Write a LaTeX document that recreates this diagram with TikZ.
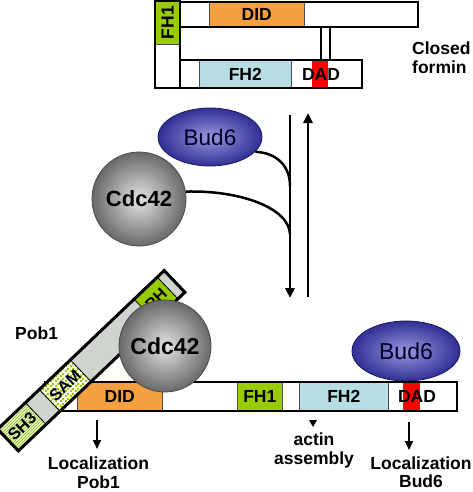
\documentclass[tikz,border=0pt]{standalone}
\usepackage{fontspec}
\setmainfont{Liberation Sans}
\usetikzlibrary{shapes.geometric,arrows.meta,patterns}
\pgfdeclarepatternformonly{finecheck}{\pgfpointorigin}{\pgfqpoint{5pt}{5pt}}{\pgfqpoint{5pt}{5pt}}{%
  \pgfpathrectangle{\pgfpointorigin}{\pgfqpoint{2.5pt}{2.5pt}}%
  \pgfpathrectangle{\pgfqpoint{2.5pt}{2.5pt}}{\pgfqpoint{2.5pt}{2.5pt}}%
  \pgfusepath{fill}}
\definecolor{didc}{RGB}{244,160,64}
\definecolor{fhone}{RGB}{153,204,0}
\definecolor{fhtwo}{RGB}{183,221,228}
\definecolor{dadc}{RGB}{255,0,0}
\definecolor{pobgray}{RGB}{208,212,206}
\definecolor{budin}{RGB}{152,152,222}
\definecolor{budout}{RGB}{48,48,150}
\definecolor{budline}{RGB}{25,25,90}
\definecolor{cdcin}{RGB}{228,228,228}
\definecolor{cdcout}{RGB}{105,105,105}
\definecolor{shfill}{RGB}{232,245,190}
\definecolor{shline}{RGB}{140,190,40}
\begin{document}
\begin{tikzpicture}[x=1pt,y=-1pt,
  lab/.style={font=\fontsize{17.5}{20}\selectfont\bfseries, inner sep=0pt},
  dom/.style={draw=black!70, line width=0.6pt, inner sep=0pt,
    font=\fontsize{17.5}{20}\selectfont\bfseries},
  outl/.style={draw=black, line width=2.5pt},
  link/.style={draw=black, line width=2pt},
  arr/.style={draw=black, line width=2.5pt, -{Triangle[length=10pt,width=9pt]}},
  sarr/.style={draw=black, line width=2pt, -{Triangle[length=9pt,width=8pt]}},
  curv/.style={draw=black, line width=2.5pt},
  bud/.style={ellipse, draw=budline, line width=0.8pt, shading=radial,
    inner color=budin, outer color=budout, inner sep=0pt, text=black!85!blue},
  cdc/.style={circle, draw=black!70, line width=0.8pt, shading=radial,
    inner color=cdcin, outer color=cdcout, inner sep=0pt,
    font=\fontsize{23}{26}\selectfont\bfseries},
  pobdom/.style={draw=black, line width=0.8pt, inner sep=0pt, transform shape,
    minimum height=30pt, anchor=west, font=\fontsize{16.5}{19}\selectfont\bfseries}
]
\useasboundingbox (0,0) rectangle (472,492);
\fill[white] (0,0) rectangle (472,492);

% ---------- closed formin ----------
\fill[white] (155,1) rectangle (180,88);
\fill[white] (180,2) rectangle (418,27);
\fill[white] (180,60) rectangle (362,88);
\node[dom, fill=fhone, rotate=90, minimum width=43pt, minimum height=25pt] (fh1t) at (167.5,22.5) {FH1};
\node[dom, fill=didc, minimum width=95pt, minimum height=25pt, anchor=north west] (didt) at (209,2) {DID};
\node[dom, fill=fhtwo, minimum width=92pt, minimum height=28pt, anchor=north west] (fh2t) at (199,60) {FH2};
\node[dom, draw=none, fill=dadc, minimum width=16pt, minimum height=28pt, anchor=north west] (dadt) at (312,60) {};
\node[lab] (dadtl) at (321,74) {DAD};
\draw[outl] (155,1) rectangle (180,88);
\draw[outl] (180,2) rectangle (418,27);
\draw[outl] (180,60) rectangle (362,88);
\draw[link] (321,27) -- (321,60);
\draw[link] (330,27) -- (330,60);
\node[lab, anchor=base west] (closed) at (412,55) {Closed};
\node[lab, anchor=base west] (formin) at (412,74) {formin};

% ---------- middle ----------
\node[bud, minimum width=104pt, minimum height=58pt,
  font=\fontsize{22.5}{25}\selectfont] (budA) at (210,137) {Bud6};
\node[cdc, minimum size=94pt, font=\fontsize{22}{25}\selectfont\bfseries] (cdcA) at (139,199) {Cdc42};
\coordinate (dnS) at (290,115);
\coordinate (dnE) at (290,298);
\coordinate (upS) at (308,297);
\coordinate (upE) at (308,113);
\draw[arr] (dnS) -- (dnE);
\draw[arr] (upS) -- (upE);
\coordinate (jA) at (290,186);
\coordinate (jB) at (290,234);
\draw[curv] (budA.-18) .. controls (277,153) and (290,166) .. (jA);
\draw[curv] (cdcA.9) .. controls (240,190) and (289,208) .. (jB);

% ---------- open formin ----------
\fill[white] (45,382) rectangle (457,411);
\node[dom, fill=didc, minimum width=85pt, minimum height=29pt, anchor=north west] (didb) at (77,382) {DID};
\node[dom, fill=fhone, minimum width=45pt, minimum height=29pt, anchor=north west] (fh1b) at (237,382) {FH1};
\node[dom, fill=fhtwo, minimum width=89pt, minimum height=29pt, anchor=north west] (fh2b) at (299,382) {FH2};
\node[dom, draw=none, fill=dadc, minimum width=17pt, minimum height=29pt, anchor=north west] (dadb) at (403,382) {};
\node[lab] (dadbl) at (417,396.5) {DAD};
\node[bud, minimum width=108pt, minimum height=60pt,
  font=\fontsize{23}{26}\selectfont] (budB) at (406,351) {Bud6};
\draw[outl] (45,382) rectangle (457,411);

% Pob1 bar
\begin{scope}[shift={(8,440)}, rotate=43.6]
  \fill[pobgray] (0,-15) rectangle (230,15);
  \node[pobdom, minimum width=38pt, preaction={fill=shfill},
    pattern=north east lines, pattern color=shline] (sh3) at (0,0) {SH3};
  \node[pobdom, minimum width=43pt, preaction={fill=white},
    pattern=finecheck, pattern color=fhone] (sam) at (57,0) {SAM};
  \node[pobdom, minimum width=32pt, fill=fhone] (ph) at (188,0) {PH};
  \draw[draw=black, line width=3pt] (0,-15) rectangle (230,15);
\end{scope}
\node[lab, anchor=base west] (pob1) at (15,339) {Pob1};

\node[cdc, minimum size=92pt] (cdcB) at (165,346) {Cdc42};

% arrows and labels below
\coordinate (l1s) at (97,420);
\coordinate (l1e) at (97,449);
\draw[sarr] (l1s) -- (l1e);
\coordinate (l2s) at (409,422);
\coordinate (l2e) at (409,450);
\draw[sarr] (l2s) -- (l2e);
\fill[black] (309,420) -- (317,420) -- (313,427) -- cycle;

\node[lab, anchor=base] (loc1) at (98.5,469.5) {Localization};
\node[lab, anchor=base] (pobl) at (98.5,488) {Pob1};
\node[lab, anchor=base] (actin) at (314,445) {actin};
\node[lab, anchor=base] (assem) at (314,464) {assembly};
\node[lab, anchor=base] (loc2) at (421,469) {Localization};
\node[lab, anchor=base] (budl) at (421,487.5) {Bud6};
\end{tikzpicture}
\end{document}
